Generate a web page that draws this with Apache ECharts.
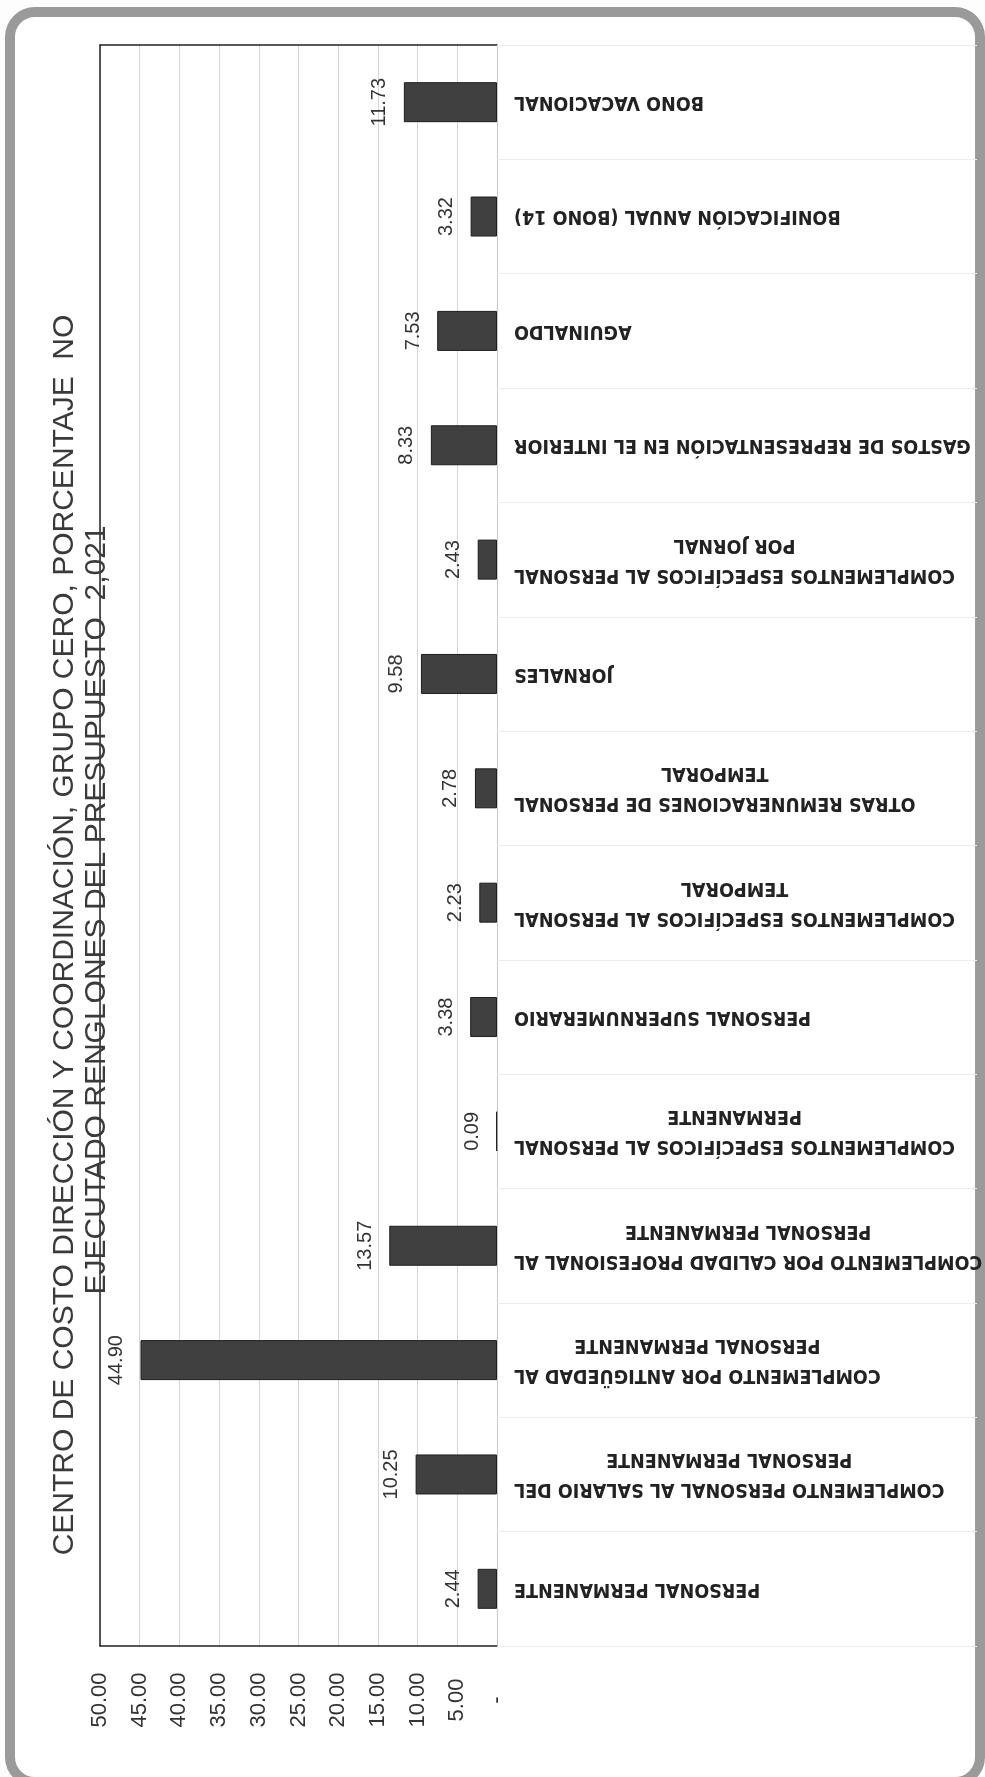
<!DOCTYPE html>
<html>
<head>
<meta charset="utf-8">
<script src="https://cdn.jsdelivr.net/npm/echarts@6/dist/echarts.min.js"></script>
<style>
  html, body { margin: 0; padding: 0; background: #fdfdfd; }
  #frame { position: absolute; left: 5px; top: 7px; width: 960px; height: 1760px;
           border: 10px solid #9a9a9a; border-radius: 30px; background: #fff; }
  #chart { position: absolute; left: 0; top: 0; width: 985px; height: 1777px; }
</style>
</head>
<body>
<div id="frame"></div>
<div id="chart"></div>
<script>
// Categories, listed from the bottom of the picture to the top
const categories = [
  'PERSONAL PERMANENTE',
  'COMPLEMENTO PERSONAL AL SALARIO DEL\nPERSONAL PERMANENTE',
  'COMPLEMENTO POR ANTIGÜEDAD AL\nPERSONAL PERMANENTE',
  'COMPLEMENTO POR CALIDAD PROFESIONAL AL\nPERSONAL PERMANENTE',
  'COMPLEMENTOS ESPECÍFICOS AL PERSONAL\nPERMANENTE',
  'PERSONAL SUPERNUMERARIO',
  'COMPLEMENTOS ESPECÍFICOS AL PERSONAL\nTEMPORAL',
  'OTRAS REMUNERACIONES DE PERSONAL\nTEMPORAL',
  'JORNALES',
  'COMPLEMENTOS ESPECÍFICOS AL PERSONAL\nPOR JORNAL',
  'GASTOS DE REPRESENTACIÓN EN EL INTERIOR',
  'AGUINALDO',
  'BONIFICACIÓN ANUAL (BONO 14)',
  'BONO VACACIONAL'
];
const values = [2.44, 10.25, 44.90, 13.57, 0.09, 3.38, 2.23, 2.78, 9.58, 2.43, 8.33, 7.53, 3.32, 11.73];
const titleLines = [
  'CENTRO DE COSTO DIRECCIÓN Y COORDINACIÓN, GRUPO CERO, PORCENTAJE  NO',
  'EJECUTADO RENGLONES DEL PRESUPUESTO  2,021'
];
const axisMin = 0, axisMax = 50, axisStep = 5;

const chart = echarts.init(document.getElementById('chart'), null, { renderer: 'canvas' });
const catFont = '"Liberation Sans Narrow", "DejaVu Sans Condensed", sans-serif';
const numFont = '"Liberation Sans", Arial, sans-serif';
const titleFont = '30px "Liberation Sans", Arial, sans-serif';

chart.setOption({
  backgroundColor: 'transparent',
  animation: false,
  graphic: [
    { type: 'text', x: 65, y: 935, rotation: Math.PI / 2, z: 10,
      style: { text: titleLines[0], fill: '#3a3a3a', font: titleFont,
               align: 'center', verticalAlign: 'middle' } },
    { type: 'text', x: 97, y: 910, rotation: Math.PI / 2, z: 10,
      style: { text: titleLines[1], fill: '#3a3a3a', font: titleFont,
               align: 'center', verticalAlign: 'middle' } }
  ],
  grid: { left: 100, right: 488, top: 45, bottom: 131, containLabel: false, outerBoundsMode: 'none' },
  xAxis: [
    { type: 'value', position: 'bottom', inverse: true, min: axisMin, max: axisMax, interval: axisStep,
      axisLine: { show: true, onZero: false, lineStyle: { color: '#222', width: 1.5 } },
      axisTick: { show: false },
      splitLine: { show: true, lineStyle: { color: '#d6d6d6', width: 1 } },
      axisLabel: { rotate: 90, align: 'center', margin: 54, color: '#333',
                   fontFamily: numFont, fontSize: 22,
                   formatter: v => v === 0 ? '-' : v.toFixed(2) } },
    { type: 'value', position: 'top', inverse: true, min: axisMin, max: axisMax, interval: axisStep,
      axisLine: { show: true, onZero: false, lineStyle: { color: '#222', width: 1.5 } },
      axisTick: { show: false }, axisLabel: { show: false }, splitLine: { show: false } }
  ],
  yAxis: [
    { type: 'category', position: 'right', data: categories,
      axisLine: { show: true, onZero: false, lineStyle: { color: '#c8c8c8', width: 1 } },
      axisTick: { show: true, length: 480, lineStyle: { color: '#ececec', width: 1 } },
      splitLine: { show: false },
      axisLabel: { rotate: 180, margin: 17, color: '#222',
                   formatter: s => s.split('\n').map(l => '{a|' + l + '}').join('\n'),
                   rich: { a: { align: 'center', fontFamily: catFont, fontSize: 19.5, lineHeight: 30,
                                color: '#222', fontWeight: 'bold' } } } },
    { type: 'category', position: 'left', data: categories,
      axisLine: { show: true, onZero: false, lineStyle: { color: '#222', width: 1.5 } },
      axisTick: { show: false }, axisLabel: { show: false }, splitLine: { show: false } }
  ],
  series: [{
    type: 'bar', xAxisIndex: 0, yAxisIndex: 0, data: values, barWidth: 40,
    itemStyle: { color: '#404040', borderColor: '#1e1e1e', borderWidth: 1 },
    label: { show: true, position: 'left', distance: 14, rotate: 90, align: 'center', verticalAlign: 'bottom',
             color: '#333', fontFamily: numFont, fontSize: 20,
             formatter: p => p.value.toFixed(2) }
  }]
});
</script>
</body>
</html>
